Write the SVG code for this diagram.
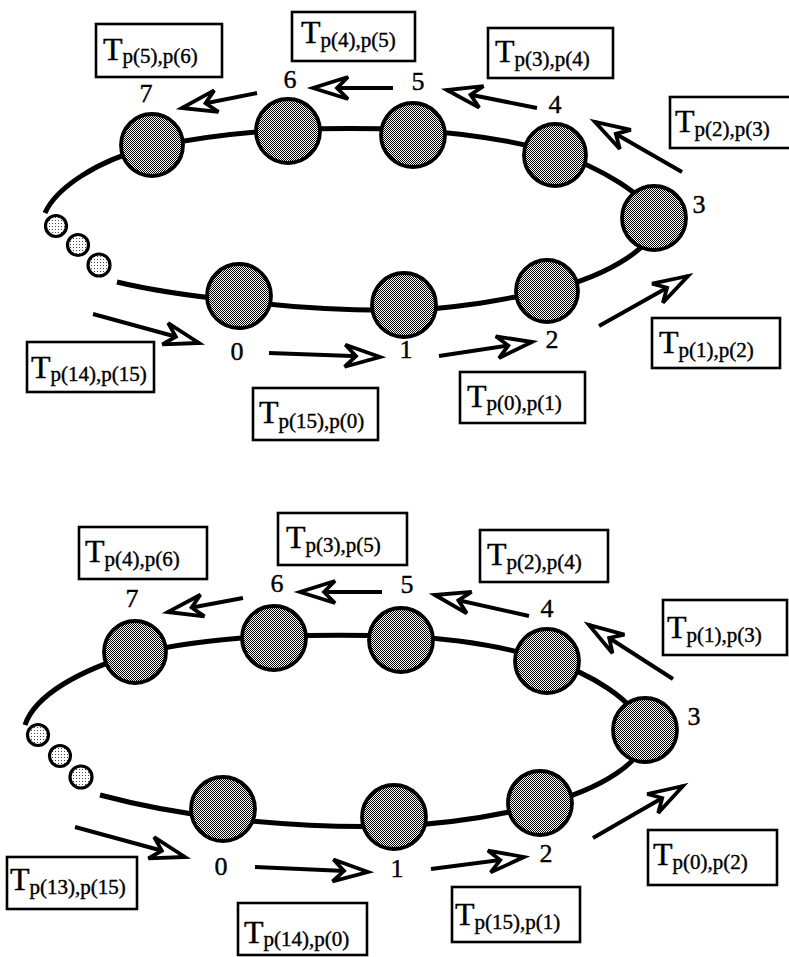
<svg xmlns="http://www.w3.org/2000/svg" width="789" height="957" viewBox="0 0 789 957">
<defs>
<pattern id="dither" width="2" height="2" patternUnits="userSpaceOnUse"><rect width="2" height="2" fill="#fff"/><rect width="1" height="1" fill="#000"/><rect x="1" y="1" width="1" height="1" fill="#000"/></pattern>
<pattern id="light" width="3" height="3" patternUnits="userSpaceOnUse"><rect width="3" height="3" fill="#fff"/><rect x="1" y="1" width="1" height="1" fill="#444"/></pattern>
<marker id="ah" markerUnits="userSpaceOnUse" orient="auto" viewBox="-40 -20 50 40" markerWidth="50" markerHeight="40" refX="0" refY="0" overflow="visible">
<path d="M0,0 L-35,-11 L-24,0 L-35,11 Z" fill="#fff" stroke="#000" stroke-width="3.8" stroke-linejoin="miter"/>
</marker>
<style>
.ring{fill:none;stroke:#000;stroke-width:5}
.node{fill:url(#dither);stroke:#000;stroke-width:3.8}
.dot{fill:url(#light);stroke:#000;stroke-width:3.2}
.num{font-family:"Liberation Serif","Times New Roman",serif;font-size:26px;text-anchor:middle;fill:#000;stroke:#000;stroke-width:0.4}
.box{fill:#fff;stroke:#000;stroke-width:2.6}
.lbl{font-family:"Liberation Serif","Times New Roman",serif;fill:#000;stroke:#000;stroke-width:0.4}
.T{font-size:32px}
.s{font-size:21px}
.arr{stroke:#000;stroke-width:4;fill:none;marker-end:url(#ah)}
</style>
</defs>
<rect width="789" height="957" fill="#fff"/>

<g id="connectors">
<path class="ring" d="M45,213 C55,190 95,160 152,147 C195,138 245,132 288,130 C330,128 370,128 413,130 C460,133 510,140 555,152 C600,168 648,195 654,218 C660,245 610,275 547,291 C500,300 450,310 404,310 C340,311 290,307 239,301 C190,296 150,290 117,282"/>
<path class="ring" d="M25,725 C35,695 80,670 135,654 C180,643 230,638 274,636 C320,635 360,635 401,636 C460,639 510,648 547,660 C590,673 635,700 645,730 C650,760 600,790 540,805 C500,815 450,824 394,826 C330,828 275,824 223,818 C170,812 130,803 100,795"/>
<line class="arr" x1="257" y1="93" x2="182" y2="108"/>
<line class="arr" x1="393" y1="88" x2="313" y2="88"/>
<line class="arr" x1="537" y1="108" x2="447" y2="90"/>
<line class="arr" x1="682" y1="172" x2="595" y2="122"/>
<line class="arr" x1="599" y1="326" x2="688" y2="276"/>
<line class="arr" x1="439" y1="356" x2="532" y2="342"/>
<line class="arr" x1="269" y1="353" x2="380" y2="357"/>
<line class="arr" x1="93" y1="314" x2="199" y2="343"/>
<line class="arr" x1="243" y1="598" x2="168" y2="612"/>
<line class="arr" x1="382" y1="592" x2="300" y2="592"/>
<line class="arr" x1="529" y1="616" x2="435" y2="595"/>
<line class="arr" x1="673" y1="679" x2="589" y2="625"/>
<line class="arr" x1="593" y1="838" x2="683" y2="786"/>
<line class="arr" x1="431" y1="869" x2="524" y2="857"/>
<line class="arr" x1="255" y1="867" x2="368" y2="872"/>
<line class="arr" x1="75" y1="827" x2="185" y2="857"/>
</g>

<g id="top-dots"><circle class="dot" cx="56" cy="226" r="10.5"/><circle class="dot" cx="78" cy="245" r="10.5"/><circle class="dot" cx="99" cy="265" r="11"/></g>
<g id="top-n7"><circle class="node" cx="152" cy="145" r="31"/><text class="num" x="146" y="102">7</text></g>
<g id="top-n6"><circle class="node" cx="288" cy="131" r="32"/><text class="num" x="290" y="88">6</text></g>
<g id="top-n5"><circle class="node" cx="413" cy="135" r="32"/><text class="num" x="418" y="90">5</text></g>
<g id="top-n4"><circle class="node" cx="555" cy="155" r="31"/><text class="num" x="555" y="113">4</text></g>
<g id="top-n3"><circle class="node" cx="654" cy="218" r="32"/><text class="num" x="699" y="213">3</text></g>
<g id="top-n2"><circle class="node" cx="547" cy="291" r="31"/><text class="num" x="552" y="348">2</text></g>
<g id="top-n1"><circle class="node" cx="404" cy="305" r="32"/><text class="num" x="406" y="358">1</text></g>
<g id="top-n0"><circle class="node" cx="239" cy="296" r="32"/><text class="num" x="237" y="360">0</text></g>

<g id="bot-dots"><circle class="dot" cx="38" cy="735" r="10.5"/><circle class="dot" cx="60" cy="756" r="10.5"/><circle class="dot" cx="81" cy="777" r="11"/></g>
<g id="bot-n7"><circle class="node" cx="135" cy="652" r="31"/><text class="num" x="132" y="607">7</text></g>
<g id="bot-n6"><circle class="node" cx="274" cy="638" r="32"/><text class="num" x="277" y="592">6</text></g>
<g id="bot-n5"><circle class="node" cx="401" cy="640" r="32"/><text class="num" x="407" y="593">5</text></g>
<g id="bot-n4"><circle class="node" cx="547" cy="661" r="32"/><text class="num" x="547" y="617">4</text></g>
<g id="bot-n3"><circle class="node" cx="645" cy="730" r="32"/><text class="num" x="694" y="725">3</text></g>
<g id="bot-n2"><circle class="node" cx="540" cy="803" r="32"/><text class="num" x="546" y="862">2</text></g>
<g id="bot-n1"><circle class="node" cx="394" cy="817" r="32"/><text class="num" x="397" y="877">1</text></g>
<g id="bot-n0"><circle class="node" cx="223" cy="809" r="32"/><text class="num" x="221" y="875">0</text></g>

<g id="lbl-t56"><rect class="box" x="96" y="24" width="126" height="53"/><text class="lbl" x="103" y="60"><tspan class="T">T</tspan><tspan class="s" dy="3">p(5),p(6)</tspan></text></g>
<g id="lbl-t45"><rect class="box" x="292" y="12" width="123" height="49"/><text class="lbl" x="301" y="43"><tspan class="T">T</tspan><tspan class="s" dy="4">p(4),p(5)</tspan></text></g>
<g id="lbl-t34"><rect class="box" x="488" y="28" width="125" height="50"/><text class="lbl" x="495" y="62"><tspan class="T">T</tspan><tspan class="s" dy="4">p(3),p(4)</tspan></text></g>
<g id="lbl-t23"><rect class="box" x="670" y="97" width="125" height="51"/><text class="lbl" x="675" y="132"><tspan class="T">T</tspan><tspan class="s" dy="4">p(2),p(3)</tspan></text></g>
<g id="lbl-t12"><rect class="box" x="652" y="318" width="128" height="50"/><text class="lbl" x="659" y="353"><tspan class="T">T</tspan><tspan class="s" dy="4">p(1),p(2)</tspan></text></g>
<g id="lbl-t01"><rect class="box" x="460" y="372" width="125" height="51"/><text class="lbl" x="467" y="407"><tspan class="T">T</tspan><tspan class="s" dy="3">p(0),p(1)</tspan></text></g>
<g id="lbl-t150"><rect class="box" x="253" y="388" width="125" height="52"/><text class="lbl" x="259" y="423"><tspan class="T">T</tspan><tspan class="s" dy="5">p(15),p(0)</tspan></text></g>
<g id="lbl-t1415"><rect class="box" x="27" y="342" width="127" height="50"/><text class="lbl" x="31" y="378"><tspan class="T">T</tspan><tspan class="s" dy="3">p(14),p(15)</tspan></text></g>

<g id="lbl-b46"><rect class="box" x="79" y="527" width="128" height="52"/><text class="lbl" x="85" y="562"><tspan class="T">T</tspan><tspan class="s" dy="4">p(4),p(6)</tspan></text></g>
<g id="lbl-b35"><rect class="box" x="278" y="513" width="129" height="52"/><text class="lbl" x="286" y="548"><tspan class="T">T</tspan><tspan class="s" dy="4">p(3),p(5)</tspan></text></g>
<g id="lbl-b24"><rect class="box" x="480" y="530" width="128" height="52"/><text class="lbl" x="487" y="565"><tspan class="T">T</tspan><tspan class="s" dy="4">p(2),p(4)</tspan></text></g>
<g id="lbl-b13"><rect class="box" x="663" y="600" width="124" height="55"/><text class="lbl" x="667" y="638"><tspan class="T">T</tspan><tspan class="s" dy="4">p(1),p(3)</tspan></text></g>
<g id="lbl-b02"><rect class="box" x="648" y="830" width="129" height="55"/><text class="lbl" x="653" y="865"><tspan class="T">T</tspan><tspan class="s" dy="4">p(0),p(2)</tspan></text></g>
<g id="lbl-b151"><rect class="box" x="452" y="887" width="128" height="55"/><text class="lbl" x="455" y="925"><tspan class="T">T</tspan><tspan class="s" dy="4">p(15),p(1)</tspan></text></g>
<g id="lbl-b140"><rect class="box" x="238" y="903" width="129" height="52"/><text class="lbl" x="244" y="943"><tspan class="T">T</tspan><tspan class="s" dy="3">p(14),p(0)</tspan></text></g>
<g id="lbl-b1315"><rect class="box" x="7" y="857" width="130" height="52"/><text class="lbl" x="10" y="890"><tspan class="T">T</tspan><tspan class="s" dy="4">p(13),p(15)</tspan></text></g>
</svg>
